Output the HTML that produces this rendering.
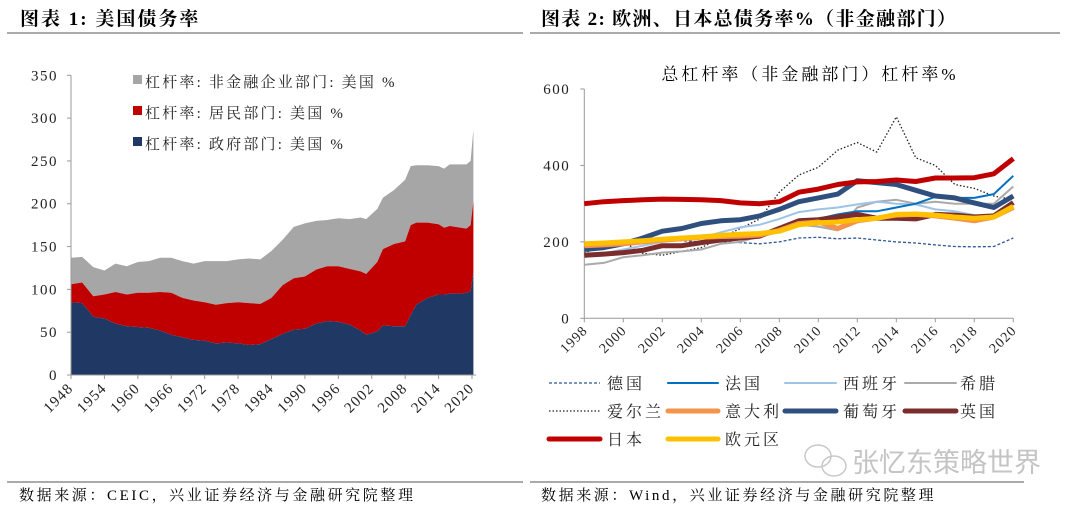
<!DOCTYPE html>
<html><head><meta charset="utf-8">
<style>
html,body{margin:0;padding:0;background:#fff;}
svg{display:block;font-family:"Liberation Serif","Noto Serif CJK SC",serif;}
</style></head>
<body>
<svg id="s" width="1080" height="510" viewBox="0 0 1080 510">
  <text x="20" y="25" font-size="19" font-weight="bold" letter-spacing="2" fill="#000">图表 1:  美国债务率</text>
  <text x="541" y="25" font-size="19" font-weight="bold" letter-spacing="1.3" fill="#000">图表 2:  欧洲、日本总债务率%（非金融部门）</text>
  <line x1="7" y1="33" x2="523" y2="33" stroke="#777" stroke-width="1.2"/>
  <line x1="530" y1="33" x2="1060" y2="33" stroke="#777" stroke-width="1.2"/>
  <line x1="7" y1="482" x2="523" y2="482" stroke="#777" stroke-width="1.2"/>
  <line x1="530" y1="482" x2="1024" y2="482" stroke="#777" stroke-width="1.2"/>
  <text x="19" y="500" font-size="15" letter-spacing="2.6" fill="#000">数据来源：CEIC，兴业证券经济与金融研究院整理</text>
  <text x="541" y="500" font-size="15" letter-spacing="2.6" fill="#000">数据来源：Wind，兴业证券经济与金融研究院整理</text>
  <text x="810" y="80" font-size="17" letter-spacing="3" text-anchor="middle" fill="#000">总杠杆率（非金融部门）杠杆率%</text>
  <text x="852" y="472" font-size="27" fill="#c4c4c4" font-family="Liberation Sans,Noto Sans CJK SC,sans-serif">张忆东策略世界</text>
  <g fill="none" stroke="#c8c8c8" stroke-width="1.5">
    <ellipse cx="818" cy="456" rx="13" ry="11"/><ellipse cx="834" cy="466" rx="12" ry="10"/>
  </g>
  <g id="left"></g>
  <g id="right"></g>
</svg>
<script>
// ---------- Left chart data (US leverage, % of GDP) ----------
const usYears = [1948,1950,1952,1954,1956,1958,1960,1962,1964,1966,1968,1970,1972,1974,1976,1978,1980,1982,1984,1986,1988,1990,1992,1994,1996,1998,2000,2001,2003,2004,2006,2008,2009,2010,2012,2014,2015,2016,2018,2019,2019.75,2020.25];
const usGov  = [85,84,68,66,60,57,56,55,52,47,44,41,40,37,38,37,35,36,42,48,53,54,60,63,62,59,52,47,51,58,57,57,70,82,90,94,94,95,95,96,98,120];
const usHousehold = [21,24,24,28,37,37,40,41,45,49,46,46,45,45,46,48,49,47,48,57,60,61,63,64,65,65,69,71,81,89,96,99,105,96,88,82,78,79,77,75,77,83];
const usCorporate = [31,30,34,28,33,33,36,37,40,41,43,43,48,51,49,50,52,52,55,53,60,62,57,54,56,58,63,64,62,60,63,72,69,67,67,68,69,72,74,75,75,84];
const usYTicks = [0,50,100,150,200,250,300,350];
const usXTicks = [1948,1954,1960,1966,1972,1978,1984,1990,1996,2002,2008,2014,2020];
const usLegend = ["杠杆率: 非金融企业部门: 美国  %","杠杆率: 居民部门: 美国  %","杠杆率: 政府部门: 美国  %"];

// ---------- Right chart data (total non-financial leverage %) ----------
const euYears = [1998,1999,2000,2001,2002,2003,2004,2005,2006,2007,2008,2009,2010,2011,2012,2013,2014,2015,2016,2017,2018,2019,2020];
const germany  = [190,200,203,205,205,203,200,200,198,195,200,210,212,208,210,205,200,197,192,188,187,188,210];
const france   = [195,190,195,200,205,208,212,215,220,222,230,255,260,272,280,280,290,300,318,315,315,325,373];
const spain    = [160,170,180,190,200,205,210,225,238,245,260,278,285,290,298,305,300,298,285,280,270,265,300];
const greece   = [140,145,160,165,172,175,180,195,200,215,225,245,240,230,290,305,310,300,305,300,300,300,345];
const ireland  = [170,195,200,170,165,175,185,210,235,260,330,375,395,440,460,435,527,420,400,350,340,320,310];
const italy    = [190,192,195,200,205,208,212,214,215,218,230,248,252,235,255,262,270,272,268,262,255,265,290];
const portugal = [180,185,195,210,228,235,248,255,258,268,285,305,315,325,360,355,350,335,320,315,302,290,320];
const uk       = [165,168,172,178,190,190,198,205,210,215,235,255,258,265,272,262,262,260,272,270,265,268,303];
const japan    = [300,305,308,310,312,311,310,308,302,300,305,330,338,350,357,358,362,358,367,367,368,378,418];
const euroArea = [195,197,200,203,207,210,213,217,220,222,228,245,250,252,258,262,272,273,270,265,262,265,293];
const euYTicks = [0,200,400,600];
const euXTicks = [1998,2000,2002,2004,2006,2008,2010,2012,2014,2016,2018,2020];
const euNames = ["德国","法国","西班牙","希腊","爱尔兰","意大利","葡萄牙","英国","日本","欧元区"];

const NS = "http://www.w3.org/2000/svg";
function mk(tag, attrs, parent){ const e=document.createElementNS(NS,tag); for(const k in attrs) e.setAttribute(k,attrs[k]); parent.appendChild(e); return e; }

// ---------- Left chart ----------
(function(){
  const g = document.getElementById('left');
  const x0=71, x1=472, y0=375, y1=75.3;
  const xs = y => x0 + (y-1948)*(x1-x0)/72;
  const ys = v => y0 - v*(y0-y1)/350;
  const top1 = usGov.slice();
  const top2 = usGov.map((v,i)=>v+usHousehold[i]);
  const top3 = top2.map((v,i)=>v+usCorporate[i]);
  function area(topArr, botArr, color, name){
    let d = "M"+xs(usYears[0])+","+ys(topArr[0]);
    for(let i=1;i<usYears.length;i++) d+="L"+xs(usYears[i])+","+ys(topArr[i]);
    for(let i=usYears.length-1;i>=0;i--) d+="L"+xs(usYears[i])+","+ys(botArr?botArr[i]:0);
    const p = mk('path',{d:d+"Z",fill:color},g);
    
    
  }
  area(top3, top2, '#a6a6a6', 'area-corporate');
  area(top2, top1, '#c00000', 'area-household');
  area(top1, null, '#203864', 'area-government');
  const ax = mk('path',{d:`M${x0},${y1}V${y0}H${x1+4}`,stroke:'#999',fill:'none','stroke-width':1},g);
  
  
  usYTicks.forEach(v=>{
    mk('line',{x1:x0-4,x2:x0,y1:ys(v),y2:ys(v),stroke:'#999'},g);
    const t = mk('text',{x:x0-13,y:ys(v)+5,'font-size':15,'letter-spacing':1.5,'text-anchor':'end',fill:'#222'},g);
    t.textContent=v;
    
    
  });
  usXTicks.forEach(v=>{
    const x=xs(v);
    mk('line',{x1:x,x2:x,y1:y0,y2:y0+4,stroke:'#999'},g);
    const t = mk('text',{x:x+3,y:y0+14,'font-size':15,'letter-spacing':1.2,'text-anchor':'end',fill:'#222',transform:`rotate(-45 ${x+3} ${y0+14})`},g);
    t.textContent=v;
    
    
  });
  const cols=['#a6a6a6','#c00000','#203864'];
  usLegend.forEach((s,i)=>{
    const y=82+i*31;
    const r = mk('rect',{x:133,y:y-7,width:9,height:9,fill:cols[i]},g);
    
    
    const t = mk('text',{x:145,y:y+5,'font-size':15,'letter-spacing':2.2,fill:'#222'},g);
    t.textContent=s;
    
    
  });
})();

// ---------- Right chart ----------
(function(){
  const g = document.getElementById('right');
  const x0=584.3, x1=1013.3, y0=318.3, y1=89;
  const xs = y => x0 + (y-1998)*(x1-x0)/22;
  const ys = v => y0 - v*(y0-y1)/600;
  const ax = mk('path',{d:`M${x0},${y1}V${y0}H${x1}`,stroke:'#999',fill:'none','stroke-width':1},g);
  
  
  euYTicks.forEach(v=>{
    mk('line',{x1:x0-4,x2:x0,y1:ys(v),y2:ys(v),stroke:'#999'},g);
    const t = mk('text',{x:x0-14,y:ys(v)+5,'font-size':15,'letter-spacing':1.5,'text-anchor':'end',fill:'#222'},g);
    t.textContent=v;
    
    
  });
  euXTicks.forEach(v=>{
    const x=xs(v);
    mk('line',{x1:x,x2:x,y1:y0,y2:y0+4,stroke:'#999'},g);
    const t = mk('text',{x:x+4,y:y0+13,'font-size':14,'letter-spacing':1,'text-anchor':'end',fill:'#222',transform:`rotate(-45 ${x+4} ${y0+13})`},g);
    t.textContent=v;
    
    
  });
  const series=[germany,france,spain,greece,ireland,italy,portugal,uk,japan,euroArea];
  const styles=[
    {c:'#2e5597',w:1.3,d:'3,2'},{c:'#0070c0',w:2,d:''},{c:'#9dc3e6',w:2,d:''},{c:'#aaaaaa',w:2,d:''},
    {c:'#222',w:1.3,d:'1.5,2'},{c:'#f4934a',w:5,d:''},{c:'#2f4f7f',w:5,d:''},{c:'#7b2c2c',w:5,d:''},
    {c:'#c00000',w:5,d:''},{c:'#ffc000',w:5,d:''}];
  const keys=['germany','france','spain','greece','ireland','italy','portugal','uk','japan','euro-area'];
  const order=[4,0,3,2,1,7,6,5,9,8];
  order.forEach(i=>{
    const arr=series[i], s=styles[i];
    let d=''; arr.forEach((v,j)=>{ d+=(j?'L':'M')+xs(euYears[j]).toFixed(1)+','+ys(v).toFixed(1); });
    const p = mk('path',{d:d,fill:'none',stroke:s.c,'stroke-width':s.w,'stroke-dasharray':s.d,'stroke-linejoin':'round'},g);
    
    
  });
  const colX=[[549,600,607],[668,718,725],[785,836,843],[905,956,960]];
  euNames.forEach((n,i)=>{
    const r=Math.floor(i/4), c=i%4, y=383+r*28, s=styles[i];
    const l = mk('line',{x1:colX[c][0],x2:colX[c][1],y1:y,y2:y,stroke:s.c,'stroke-width':s.w,'stroke-dasharray':s.d,'stroke-linecap':s.d?'butt':'round'},g);
    
    
    const t = mk('text',{x:colX[c][2],y:y+6,'font-size':16,'letter-spacing':3,fill:'#222'},g);
    t.textContent=n;
    
    
  });
})();
</script>
</body></html>
